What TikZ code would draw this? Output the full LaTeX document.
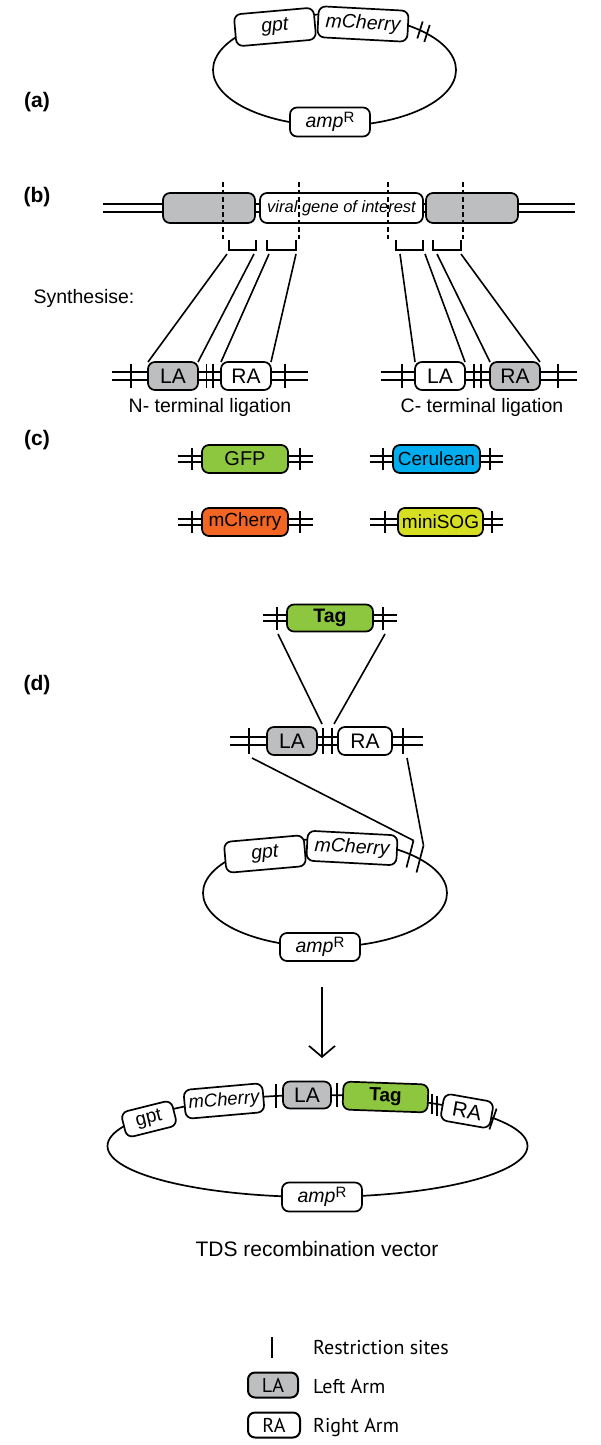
\documentclass[tikz,border=0pt]{standalone}
\usepackage{fontspec}
\setmainfont{Liberation Sans}
\newfontfamily\legendfont{PT Sans}
\usetikzlibrary{arrows.meta,shapes.geometric}
\definecolor{armgray}{HTML}{BCBEC0}
\definecolor{gfpgreen}{HTML}{8DC63F}
\definecolor{cerblue}{HTML}{00AEEF}
\definecolor{cherryorange}{HTML}{F26522}
\definecolor{sogyellow}{HTML}{D7DF23}
\newcommand\myfs[1]{\fontsize{#1}{#1}\selectfont}
\newcommand\ampR{\textit{amp}\raisebox{5pt}{\myfs{15}R}}
\tikzset{
  box/.style={draw, line width=1.7pt, rounded corners=7pt, inner sep=0pt, outer sep=0pt, fill=white, font=\myfs{19}},
  grey/.style={box, fill=armgray},
  dna/.style={double, double distance=5.8pt, line width=1.7pt},
  thindna/.style={double, double distance=4.5pt, line width=1.6pt},
  site/.style={line width=1.7pt},
  link/.style={line width=1.6pt},
  cut/.style={line width=1.2pt, dash pattern=on 4.5pt off 3pt},
  bracket/.style={line width=1.8pt},
  plasmid/.style={draw, ellipse, line width=1.7pt, inner sep=0pt, outer sep=0pt},
  panel/.style={font=\myfs{21}\bfseries},
  lbl/.style={font=\myfs{19.5}},
  arm/.style={font=\myfs{21}},
  leg/.style={font=\legendfont\myfs{20}, anchor=west, inner sep=0pt},
}
\begin{document}
\begin{tikzpicture}[x=1pt,y=-1pt]
\useasboundingbox (0,0) rectangle (600,1445);

% ---------------- (a)
\node[panel] (la) at (37,102) {(a)};
\node[plasmid, minimum width=243pt, minimum height=112pt] (pa) at (334.5,70) {};
\node[box, minimum width=80pt, minimum height=32pt, rotate=5, font=\myfs{19.5}\itshape] (agpt) at (275,27) {gpt};
\node[box, minimum width=90pt, minimum height=31pt, rotate=-3, font=\myfs{19.5}\itshape] (amch) at (363,24) {mCherry};
\node[box, minimum width=80pt, minimum height=29pt, font=\myfs{19.5}] (aamp) at (330,122) {\ampR};
\draw[site] (417.3,38.5) -- (422.7,21.5);
\draw[site] (424.3,42) -- (429.7,25);

% ---------------- (b)
\node[panel] (lb) at (37,197) {(b)};
\coordinate (bL) at (103,208); \coordinate (bR) at (575,208);
\draw[dna] (bL) -- (bR);
\node[grey, minimum width=92pt, minimum height=30pt] (bg1) at (209,208) {};
\node[box, minimum width=163pt, minimum height=30pt, font=\myfs{16.5}\itshape] (bv) at (341.5,208) {viral gene of interest};
\node[grey, minimum width=92pt, minimum height=30pt] (bg2) at (472,208) {};
\draw[cut] (223,182) -- (223,240);
\draw[cut] (299,182) -- (299,240);
\draw[cut] (388,182) -- (388,240);
\draw[cut] (463,182) -- (463,240);
\draw[bracket] (229,240) -- (229,250) -- (256,250) -- (256,240);
\draw[bracket] (267,240) -- (267,250) -- (296,250) -- (296,240);
\draw[bracket] (396,240) -- (396,250) -- (423,250) -- (423,240);
\draw[bracket] (433,240) -- (433,250) -- (461,250) -- (461,240);
\coordinate (s1) at (227,254); \coordinate (s2) at (254,254);
\coordinate (s3) at (269,254); \coordinate (s4) at (296,254);
\coordinate (s5) at (400,254); \coordinate (s6) at (425,254);
\coordinate (s7) at (437,254); \coordinate (s8) at (461,254);
\node[lbl] (synth) at (84,298) {Synthesise:};

% N-terminal construct
\coordinate (nL) at (112,376); \coordinate (nR) at (308,376);
\draw[dna] (nL) -- (nR);
\node[grey, arm, minimum width=50pt, minimum height=28pt] (nla) at (173,376) {LA};
\node[box, arm, minimum width=50pt, minimum height=28pt] (nra) at (246,376) {RA};
\foreach \x in {131,206.5,213,285} \draw[site] (\x,364) -- (\x,388);
\node[lbl] (nlab) at (210,407) {N- terminal ligation};

% C-terminal construct
\coordinate (cL) at (381,376); \coordinate (cR) at (577,376);
\draw[dna] (cL) -- (cR);
\node[box, arm, minimum width=50pt, minimum height=28pt] (cla) at (440,376) {LA};
\node[grey, arm, minimum width=50pt, minimum height=28pt] (cra) at (515,376) {RA};
\foreach \x in {402,474,481,558} \draw[site] (\x,364) -- (\x,388);
\node[lbl] (clab) at (482,407) {C- terminal ligation};

\draw[link] (s1) -- (nla.north west);
\draw[link] (s2) -- (nla.north east);
\draw[link] (s3) -- (nra.north west);
\draw[link] (s4) -- (nra.north east);
\draw[link] (s5) -- (cla.north west);
\draw[link] (s6) -- (cla.north east);
\draw[link] (s7) -- (cra.north west);
\draw[link] (s8) -- (cra.north east);

% ---------------- (c)
\node[panel] (lc) at (37,440) {(c)};
\coordinate (g1L) at (178,459); \coordinate (g1R) at (313,459);
\draw[thindna] (g1L) -- (g1R);
\node[box, fill=gfpgreen, minimum width=86pt, minimum height=28pt, font=\myfs{20}] (gfp) at (245,459) {GFP};
\foreach \x in {192,300} \draw[site] (\x,448) -- (\x,470);
\coordinate (g2L) at (370,459); \coordinate (g2R) at (503,459);
\draw[thindna] (g2L) -- (g2R);
\node[box, fill=cerblue, minimum width=87pt, minimum height=28pt] (cer) at (436.5,459) {Cerulean};
\foreach \x in {383,490} \draw[site] (\x,448) -- (\x,470);
\coordinate (g3L) at (178,522); \coordinate (g3R) at (313,522);
\draw[thindna] (g3L) -- (g3R);
\node[box, fill=cherryorange, minimum width=86pt, minimum height=28pt] (mch) at (245,522) {mCherry};
\foreach \x in {192,300} \draw[site] (\x,511) -- (\x,533);
\coordinate (g4L) at (370,522); \coordinate (g4R) at (503,522);
\draw[thindna] (g4L) -- (g4R);
\node[box, fill=sogyellow, minimum width=85pt, minimum height=28pt] (sog) at (440.5,522) {miniSOG};
\foreach \x in {385,492} \draw[site] (\x,511) -- (\x,533);

% ---------------- (d)
\node[panel] (ld) at (37,685) {(d)};
\coordinate (tL) at (263,618); \coordinate (tR) at (397,618);
\draw[thindna] (tL) -- (tR);
\node[box, fill=gfpgreen, minimum width=86pt, minimum height=27pt, font=\myfs{19.5}\bfseries] (tag) at (330,618) {Tag};
\foreach \x in {277,383} \draw[site] (\x,607) -- (\x,630);
\coordinate (t1) at (278,634); \coordinate (t2) at (385,634);

\coordinate (dL) at (230,741); \coordinate (dR) at (423,741);
\draw[dna] (dL) -- (dR);
\node[grey, arm, minimum width=50pt, minimum height=28pt] (dla) at (292,741) {LA};
\node[box, arm, minimum width=54pt, minimum height=28pt] (dra) at (365,741) {RA};
\foreach \x in {249,323,332,403} \draw[site] (\x,728) -- (\x,754);
\coordinate (m1) at (322,724); \coordinate (m2) at (334,724);
\draw[link] (t1) -- (m1);
\draw[link] (t2) -- (m2);
\coordinate (u1) at (252,758); \coordinate (u2) at (407,758);

\node[plasmid, minimum width=244pt, minimum height=108pt] (pd) at (325,893) {};
\node[box, minimum width=80pt, minimum height=31pt, rotate=5, font=\myfs{19.5}\itshape] (dgpt) at (265,854) {gpt};
\node[box, minimum width=90pt, minimum height=30pt, rotate=-3, font=\myfs{19.5}\itshape] (dmch) at (352,848) {mCherry};
\node[box, minimum width=80pt, minimum height=28pt, font=\myfs{19.5}] (damp) at (320,947) {\ampR};
\coordinate (k1t) at (413.5,840.5); \coordinate (k1b) at (406.5,867.5);
\coordinate (k2t) at (423.5,845.5); \coordinate (k2b) at (416.5,872.5);
\draw[site] (k1b) -- (k1t);
\draw[site] (k2b) -- (k2t);
\draw[link] (u1) -- (k1t);
\draw[link] (u2) -- (k2t);

% arrow
\coordinate (arS) at (322,987); \coordinate (arE) at (322,1058);
\draw[line width=1.7pt, -{Straight Barb[length=11pt,width=26pt,line width=1.7pt]}] (arS) -- (arE);

% final vector
\node[plasmid, minimum width=420pt, minimum height=102pt] (pv) at (317.5,1146) {};
\node[box, minimum width=52pt, minimum height=26pt, rotate=14, font=\myfs{19}] (fgpt) at (149,1119) {gpt};
\node[box, minimum width=79pt, minimum height=29pt, rotate=5, font=\myfs{18.5}\itshape] (fmch) at (224,1101) {mCherry};
\node[grey, arm, minimum width=48pt, minimum height=27pt] (fla) at (307,1095) {LA};
\node[box, fill=gfpgreen, minimum width=85pt, minimum height=28pt, rotate=-2, font=\myfs{19}\bfseries] (ftag) at (385.5,1097) {Tag};
\node[box, arm, minimum width=50pt, minimum height=27pt, rotate=-10] (fra) at (467,1111) {RA};
\draw[site] (276,1084) -- (276,1108);
\draw[site] (337,1083) -- (337,1107);
\draw[site] (432,1094) -- (432,1114);
\draw[site] (437,1096) -- (437,1116);
\draw[site] (489.4,1129.4) -- (496.6,1108.6);
\node[box, minimum width=80pt, minimum height=29pt, font=\myfs{19.5}] (famp) at (322,1197) {\ampR};
\node[lbl, font=\myfs{21}] (tds) at (317,1249) {TDS recombination vector};

% legend
\draw[site, line width=2pt] (272,1337) -- (272,1358);
\node[leg] (l1) at (313,1348) {Restriction sites};
\node[grey, line width=2pt, minimum width=50pt, minimum height=25pt, font=\legendfont\myfs{20}] (lla) at (273,1385) {LA};
\node[leg] (l2) at (313,1386) {Left Arm};
\node[box, line width=2pt, minimum width=52pt, minimum height=25pt, font=\legendfont\myfs{20}] (lra) at (274,1425) {RA};
\node[leg] (l3) at (313,1427) {Right Arm};
\end{tikzpicture}
\end{document}
